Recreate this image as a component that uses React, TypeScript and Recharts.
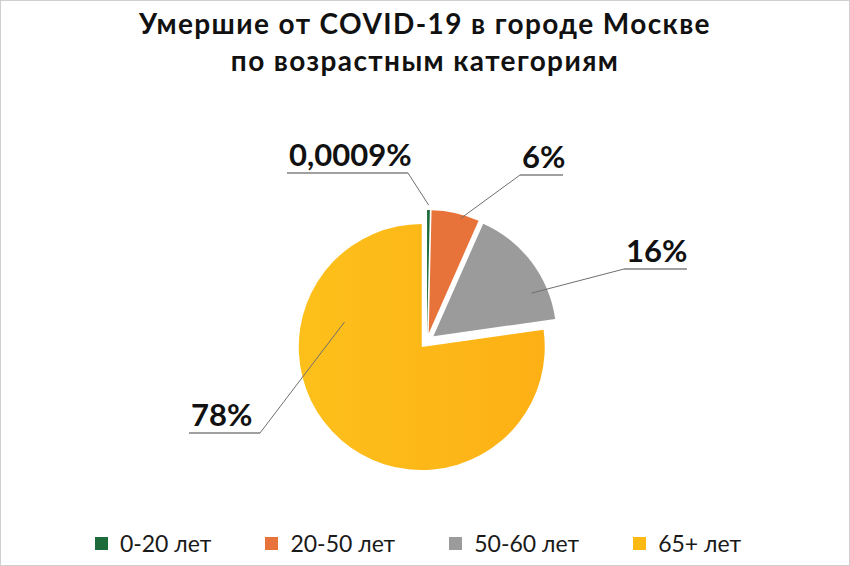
import { Legend, Pie, PieChart, Sector, Cell } from "recharts";

// Данные
const categories = ["0-20 лет", "20-50 лет", "50-60 лет", "65+ лет"];
const shares = [0.0009, 6, 16, 78];
const labels = ["0,0009%", "6%", "16%", "78%"];
const colors = ["#1d6b3a", "#e8733a", "#9b9b9b", "url(#yellowGrad)"];
const legendColors = ["#1d6b3a", "#e8733a", "#9b9b9b", "#fdb913"];

const data = categories.map((name, i) => ({ name, value: shares[i], label: labels[i] }));

// Геометрия
const W = 848;
const H = 564;
const CX = 426;
const CY = 340;
const R = 123;
const EXPLODE = 8;
const RAD = Math.PI / 180;

// Положение подписей (угол точки, доля радиуса, излом, длина подчеркивания)
const labelLayout = [
  { ang: 89.3, rf: 1.04, ex: -19, ey: -168, len: -121 },
  { ang: 74.4, rf: 0.97, ex: 93, ey: -166, len: 43 },
  { ang: 23.7, rf: 0.87, ex: 197, ey: -72, len: 63 },
  { ang: 162, rf: 0.66, ex: -167, ey: 92, len: -71 },
];

const FONT = "Lato, 'DejaVu Sans', sans-serif";

function explodedSlice(props: any) {
  const mid = props.midAngle;
  const dx = EXPLODE * Math.cos(-mid * RAD);
  const dy = EXPLODE * Math.sin(-mid * RAD);
  return <Sector {...props} cx={props.cx + dx} cy={props.cy + dy} stroke="none" />;
}

function renderLabel(props: any) {
  const i = props.index;
  const l = labelLayout[i];
  const mid = props.midAngle;
  const ox = CX + EXPLODE * Math.cos(-mid * RAD);
  const oy = CY + EXPLODE * Math.sin(-mid * RAD);
  const px = ox + l.rf * R * Math.cos(-l.ang * RAD);
  const py = oy + l.rf * R * Math.sin(-l.ang * RAD);
  const ex = CX + l.ex;
  const ey = CY + l.ey;
  const endX = ex + l.len;
  const textX = Math.min(ex, endX) + 2;
  return (
    <g key={`lbl-${i}`}>
      <line x1={px} y1={py} x2={ex} y2={ey} stroke="#6f6f6f" strokeWidth={1} />
      <line x1={ex} y1={ey} x2={endX} y2={ey} stroke="#a0a0a0" strokeWidth={2} />
      <text x={textX} y={ey - 7} fill="#111" fontFamily={FONT} fontWeight={700} fontSize={31}>
        {data[i].label}
      </text>
    </g>
  );
}

function LegendContent() {
  return (
    <div style={{ display: "flex", justifyContent: "center", gap: 54, fontFamily: FONT, fontSize: 23, color: "#1a1a1a", marginLeft: -14 }}>
      {categories.map((c, i) => (
        <div key={c} style={{ display: "flex", alignItems: "center" }}>
          <span style={{ width: 13, height: 13, background: legendColors[i], display: "inline-block", marginRight: 12 }} />
          <span>{c}</span>
        </div>
      ))}
    </div>
  );
}

export default function App() {
  return (
    <div style={{ position: "relative", width: 850, height: 566, boxSizing: "border-box", border: "1px solid #cfcfcf", background: "#fff" }}>
      <style>{`body{margin:0}`}</style>
      <div style={{ position: "absolute", top: 4, left: 0, width: W, textAlign: "center", fontFamily: FONT, fontWeight: 700, fontSize: 28, letterSpacing: 1.4, lineHeight: "37px", color: "#111" }}>
        Умершие от COVID-19 в городе Москве
        <br />
        по возрастным категориям
      </div>
      <PieChart width={W} height={H} margin={{ top: 0, right: 0, bottom: 0, left: 0 }}>
        <defs>
          <linearGradient id="yellowGrad" x1="0" y1="0" x2="1" y2="0">
            <stop offset="0%" stopColor="#fdc01b" />
            <stop offset="100%" stopColor="#fdb015" />
          </linearGradient>
        </defs>
        <Pie
          data={data}
          dataKey="value"
          nameKey="name"
          cx={CX}
          cy={CY}
          outerRadius={R}
          startAngle={90}
          endAngle={-270}
          minAngle={1.3}
          stroke="none"
          label={renderLabel}
          labelLine={false}
          shape={explodedSlice}
          activeShape={explodedSlice}
          inactiveShape={explodedSlice}
          isAnimationActive={false}
        >
          {data.map((d, i) => (
            <Cell key={d.name} fill={colors[i]} />
          ))}
        </Pie>
        <Legend content={<LegendContent />} wrapperStyle={{ top: 528, left: 0, width: W }} />
      </PieChart>
    </div>
  );
}
